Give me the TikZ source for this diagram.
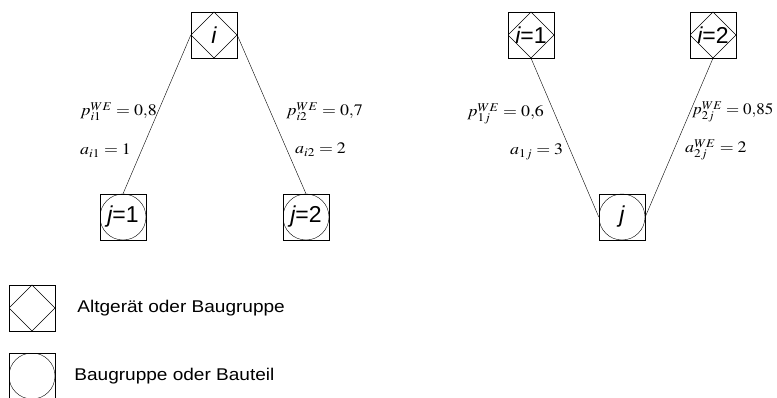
\documentclass[tikz,border=0pt]{standalone}
\usepackage{mathptmx}
\usepackage[no-math]{fontspec}
\newfontfamily\arialfont{Liberation Sans}
\usepackage{tikz}
\usetikzlibrary{positioning,calc}
\newcommand\widebox[2]{\scalebox{#1}[1]{#2}}

\begin{document}
\begin{tikzpicture}[
    x=1pt, y=-1pt,
    every node/.style={inner sep=0pt},
    partdia/.style={rectangle, draw, minimum size=46pt, inner sep=0pt,
                    font=\arialfont\fontsize{23}{26}\selectfont,
                    path picture={\draw (path picture bounding box.north)
                        -- (path picture bounding box.east)
                        -- (path picture bounding box.south)
                        -- (path picture bounding box.west) -- cycle;}},
    partcirc/.style={rectangle, draw, minimum size=46pt, inner sep=0pt,
                     font=\arialfont\fontsize{23}{26}\selectfont,
                     path picture={\draw (path picture bounding box.center)
                        circle[radius=23pt];}},
    prob/.style={anchor=base west, font=\fontsize{16}{19}\selectfont},
    legtext/.style={anchor=west, font=\arialfont\fontsize{17}{20}\selectfont},
    link/.style={-, thin}
]
\useasboundingbox (0,0) rectangle (777,398);

% Left tree
\node[partdia]  (i)  at (214,35)  {\itshape i};
\node[partcirc] (j1) at (123,217) {{\itshape j}=1};
\node[partcirc] (j2) at (306,217) {{\itshape j}=2};

% Right tree
\node[partdia]  (i1) at (531,35)  {{\itshape i}=1};
\node[partdia]  (i2) at (713,35)  {{\itshape i}=2};
\node[partcirc] (j)  at (622,217) {\itshape j};

% Connections
\draw[link] (i.west) -- (j1.north);
\draw[link] (i.east) -- (j2.north);
\draw[link] (i1.south) -- (j.west);
\draw[link] (i2.south) -- (j.east);

% Edge values
\node[prob] (pi1) at (80,116)  {\widebox{1.12}{$p_{i1}^{WE}=0{,}8$}};
\node[prob] (ai1) at (80,155)  {\widebox{1.12}{$a_{i1}=1$}};
\node[prob] (pi2) at (286,116) {\widebox{1.12}{$p_{i2}^{WE}=0{,}7$}};
\node[prob] (ai2) at (295,154) {\widebox{1.12}{$a_{i2}=2$}};
\node[prob] (p1j) at (467,117) {\widebox{1.12}{$p_{1j}^{WE}=0{,}6$}};
\node[prob] (a1j) at (510,155) {\widebox{1.12}{$a_{1j}=3$}};
\node[prob] (p2j) at (692,115) {\widebox{1.06}{$p_{2j}^{WE}=0{,}85$}};
\node[prob] (a2j) at (685,153) {\widebox{1.12}{$a_{2j}^{WE}=2$}};

% Legend
\node[partdia]  (legdia)  at (32,308) {};
\node[partcirc] (legcirc) at (32,376) {};
\node[legtext, right=22pt of legdia]  (legdiatext)
    {\widebox{1.12}{Altgerät oder Baugruppe}};
\node[legtext, right=19pt of legcirc] (legcirctext)
    {\widebox{1.12}{Baugruppe oder Bauteil}};

\end{tikzpicture}
\end{document}
